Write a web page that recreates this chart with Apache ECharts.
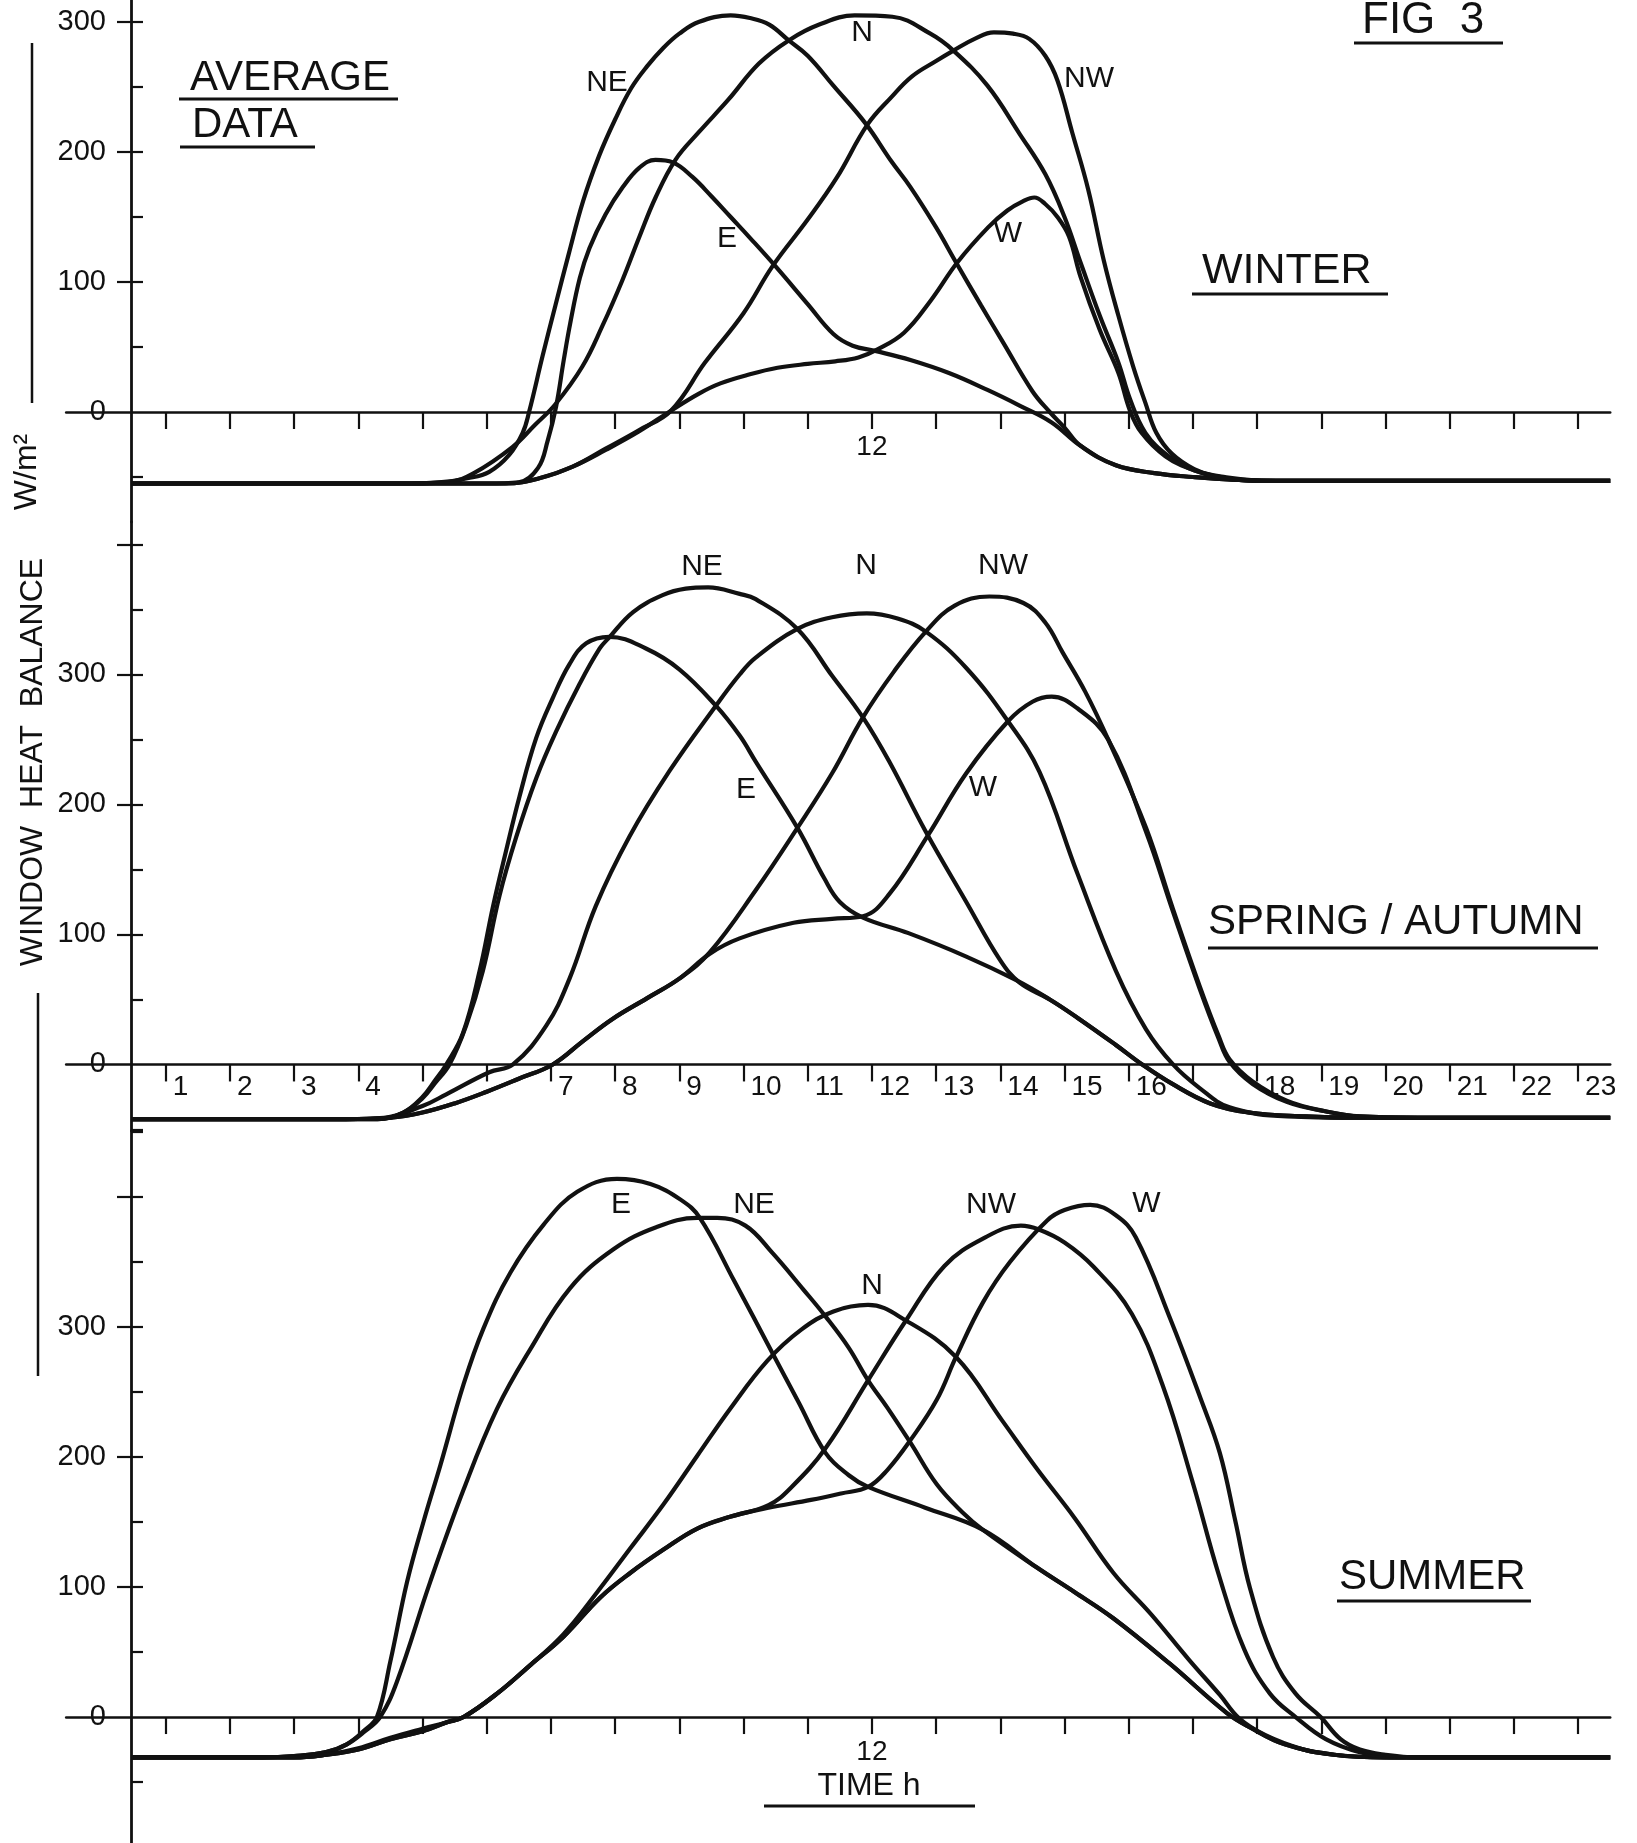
<!DOCTYPE html>
<html>
<head>
<meta charset="utf-8">
<title>Fig 3 - window heat balance</title>
<script src="https://cdn.jsdelivr.net/npm/echarts@6.0.0/dist/echarts.min.js"></script>
<style>
  html, body { margin: 0; padding: 0; background: #fff; }
  #chart { width: 1637px; height: 1843px; }
</style>
</head>
<body>
<div id="chart"></div>
<script>
// time axis (hours)
var tickHours = [1,2,3,4,5,6,7,8,9,10,11,12,13,14,15,16,17,18,19,20,21,22,23];
var winterHourLabels = [12];
var springHourLabels = [1,2,3,4,7,8,9,10,11,12,13,14,15,16,18,19,20,21,22,23];
var summerHourLabels = [12];
var wattLabels = [0,100,200,300];

// winter, [hour, W/m2]
var winterE = [[0.46,-55],[5,-55],[6,-55],[6.5,-54],[6.8,-43],[6.95,-22],[7.08,4],[7.2,40],[7.3,68],[7.45,103],[7.6,126],[7.85,152],[8.12,173],[8.38,188],[8.63,194],[8.9,192],[9.2,181],[9.5,166],[9.8,150],[10.1,134],[10.5,112],[11.0,83],[11.4,60],[11.7,51],[12.05,47],[12.6,40],[13.2,30],[13.8,17],[14.3,5],[14.8,-8],[15.25,-26],[15.8,-41],[16.4,-47],[17.0,-50],[17.6,-52],[18.5,-53],[23.5,-53]];
var winterNE = [[0.46,-55],[4.8,-55],[5.3,-54],[5.7,-51],[6.04,-46],[6.35,-33],[6.56,-16],[6.66,0],[6.87,43],[7.07,82],[7.28,122],[7.5,162],[7.75,197],[8.0,225],[8.25,249],[8.5,266],[8.75,280],[9.0,291],[9.3,300],[9.8,305],[10.1,303],[10.4,298],[10.7,286],[11.0,274],[11.4,251],[11.9,222],[12.3,193],[12.6,173],[13.0,142],[13.3,116],[13.7,82],[14.05,53],[14.5,16],[14.77,0],[15.0,-12],[15.25,-26],[15.8,-41],[16.4,-47],[17.0,-50],[17.6,-52],[18.5,-53],[23.5,-53]];
var winterN = [[0.46,-55],[4.8,-55],[5.4,-54],[5.8,-47],[6.4,-27],[6.75,-10],[7.07,6],[7.49,35],[7.8,66],[8.11,101],[8.38,135],[8.63,165],[8.94,194],[9.3,215],[9.76,240],[10.24,268],[10.71,286],[11.18,298],[11.73,305],[12.32,304],[12.91,291],[13.27,278],[13.8,251],[14.3,214],[14.7,183],[15.0,150],[15.25,115],[15.55,74],[15.84,38],[16.02,10],[16.26,-16],[16.62,-34],[17.03,-45],[17.5,-50],[18.2,-53],[23.5,-53]];
var winterNW = [[0.46,-55],[5.5,-55],[6.3,-55],[6.82,-51],[7.34,-42],[7.86,-28],[8.37,-14],[8.87,1],[9.4,38],[10.0,76],[10.45,112],[11.0,148],[11.45,180],[11.93,221],[12.3,242],[12.62,258],[13.0,270],[13.27,278],[13.6,287],[13.9,292],[14.2,291],[14.45,287],[14.7,274],[14.89,255],[15.12,215],[15.37,171],[15.61,117],[15.84,74],[16.07,35],[16.26,7],[16.43,-16],[16.67,-32],[17.02,-44],[17.32,-49],[18,-53],[23.5,-53]];
var winterW = [[0.46,-55],[5.5,-55],[6.3,-55],[6.82,-51],[7.34,-42],[7.86,-29],[8.37,-15],[8.87,1],[9.3,14],[9.64,22],[10.1,29],[10.53,34],[11.0,37],[11.43,39],[11.79,42],[12.08,48],[12.5,61],[12.92,86],[13.33,115],[13.81,142],[14.11,155],[14.35,162],[14.53,165],[14.7,160],[14.89,150],[15.07,135],[15.25,104],[15.55,63],[15.84,30],[16.02,1],[16.2,-16],[16.57,-34],[17.03,-45],[17.5,-51],[18.2,-53],[23.5,-53]];

// spring / autumn
var springE = [[0.46,-42],[3.8,-42],[4.3,-42],[4.7,-37],[5.0,-25],[5.2,-12],[5.37,0],[5.63,24],[5.89,72],[6.1,122],[6.3,164],[6.51,206],[6.77,251],[7.03,282],[7.29,308],[7.55,324],[7.91,329],[8.48,320],[9.0,304],[9.57,276],[9.94,253],[10.19,233],[10.84,182],[11.26,143],[11.5,125],[11.86,113],[12.57,101],[13.47,83],[14.24,65],[14.77,50],[15.2,36],[15.8,15],[16.21,0],[16.68,-15],[17.27,-30],[17.87,-37],[18.76,-40],[19.5,-41],[23.5,-41]];
var springNE = [[0.46,-42],[3.8,-42],[4.3,-42],[4.7,-37],[5.0,-26],[5.2,-14],[5.42,0],[5.68,30],[5.94,72],[6.2,130],[6.46,175],[6.77,220],[7.08,256],[7.45,293],[7.76,320],[7.9,328],[8.28,348],[8.74,361],[9.1,366],[9.45,367],[9.94,362],[10.19,358],[10.84,335],[11.38,299],[11.86,267],[12.27,233],[12.84,179],[13.47,125],[14.0,80],[14.3,63],[14.77,50],[15.2,36],[15.8,15],[16.21,0],[16.68,-15],[17.27,-30],[17.87,-37],[18.76,-40],[19.5,-41],[23.5,-41]];
var springN = [[0.46,-42],[3.8,-42],[4.4,-41],[5.0,-32],[5.37,-23],[6.04,-6],[6.41,0],[6.93,30],[7.29,66],[7.7,122],[8.22,175],[8.85,226],[9.57,276],[9.94,300],[10.19,313],[10.84,335],[11.38,344],[11.92,347],[12.4,343],[12.84,333],[13.47,305],[14.12,264],[14.61,225],[15.2,147],[15.8,72],[16.27,27],[16.69,0],[17.1,-18],[17.57,-33],[18.47,-40],[19.5,-41],[23.5,-41]];
var springNW = [[0.46,-42],[3.8,-42],[4.5,-41],[5.0,-37],[5.5,-30],[6.0,-21],[6.5,-11],[7.03,0],[7.5,18],[7.96,35],[8.5,51],[9.0,66],[9.47,86],[10.19,134],[10.84,182],[11.38,224],[11.86,267],[12.34,302],[12.84,333],[13.29,353],[13.83,360],[14.36,355],[14.7,340],[14.97,317],[15.32,287],[15.68,250],[16.27,182],[16.68,121],[17.1,61],[17.4,22],[17.57,4],[17.93,-13],[18.47,-28],[19.06,-36],[19.6,-40],[20.5,-41],[23.5,-41]];
var springW = [[0.46,-42],[3.8,-42],[4.5,-41],[5.0,-37],[5.5,-30],[6.0,-21],[6.5,-11],[7.03,0],[7.5,18],[7.96,35],[8.5,51],[9.0,66],[9.47,85],[9.94,97],[10.78,109],[11.38,112],[11.86,114],[12.27,131],[12.87,176],[13.47,224],[14.12,264],[14.5,279],[14.8,283],[15.2,274],[15.68,250],[16.27,179],[16.68,119],[17.1,59],[17.4,20],[17.57,2],[17.93,-15],[18.47,-29],[19.06,-36],[19.6,-40],[20.5,-41],[23.5,-41]];

// summer
var summerE = [[0.46,-31],[2.5,-31],[3.0,-30],[3.5,-27],[3.82,-21],[4.1,-10],[4.29,0],[4.5,43],[4.76,104],[5.02,151],[5.28,194],[5.64,256],[5.95,299],[6.37,342],[6.89,379],[7.41,404],[8.03,414],[8.55,410],[9.02,398],[9.32,384],[9.85,336],[10.45,280],[10.86,242],[11.28,203],[11.64,186],[11.94,177],[12.83,161],[13.73,144],[14.57,115],[15.16,96],[15.76,76],[16.64,41],[17.53,3],[17.89,-8],[18.43,-21],[19.2,-29],[20.0,-31],[23.5,-31]];
var summerNE = [[0.46,-31],[2.5,-31],[3.0,-30],[3.5,-27],[3.82,-21],[4.1,-11],[4.34,0],[4.6,27],[5.12,104],[5.64,175],[6.16,237],[6.68,283],[7.3,330],[7.98,360],[8.65,377],[9.28,384],[9.59,384],[10.03,378],[10.45,357],[10.93,329],[11.28,308],[11.64,284],[11.94,259],[12.24,238],[12.6,211],[13.01,179],[13.4,158],[13.73,144],[14.57,115],[15.16,96],[15.76,76],[16.64,41],[17.53,3],[17.89,-8],[18.43,-21],[19.2,-29],[20.0,-31],[23.5,-31]];
var summerN = [[0.46,-31],[2.5,-31],[3.0,-31],[3.5,-29],[4.0,-24],[4.5,-16],[5.0,-9],[5.38,-4],[5.64,0],[6.16,18],[6.68,40],[7.2,64],[7.72,96],[8.24,130],[8.76,164],[9.28,201],[9.79,237],[10.37,274],[10.9,298],[11.4,312],[11.94,317],[12.53,305],[13.31,277],[14.03,228],[14.57,191],[15.16,153],[15.76,111],[16.35,79],[16.94,44],[17.42,17],[17.72,-1],[18.13,-14],[18.72,-25],[19.2,-29],[20,-31],[23.5,-31]];
var summerNW = [[0.46,-31],[2.5,-31],[3.0,-31],[3.5,-29],[4.0,-25],[4.5,-17],[5.0,-11],[5.38,-4],[5.64,0],[6.16,18],[6.68,40],[7.2,62],[7.77,92],[8.24,111],[8.76,129],[9.28,145],[9.79,154],[10.39,163],[10.75,177],[11.28,207],[11.94,259],[12.53,305],[13.13,347],[13.73,368],[14.32,378],[14.6,375],[15.0,365],[15.46,346],[16.05,310],[16.53,255],[17.0,180],[17.4,110],[17.8,52],[18.2,18],[18.6,0],[19.07,-17],[19.6,-27],[20.2,-31],[23.5,-31]];
var summerW = [[0.46,-31],[2.5,-31],[3.0,-31],[3.5,-29],[4.0,-25],[4.5,-17],[5.0,-11],[5.38,-4],[5.64,0],[6.16,18],[6.68,40],[7.2,62],[7.77,92],[8.24,111],[8.76,129],[9.28,145],[9.79,154],[10.39,161],[11.05,167],[11.52,172],[11.94,177],[12.24,190],[12.6,213],[13.01,244],[13.31,277],[13.73,319],[14.15,350],[14.73,382],[15.0,390],[15.4,394],[15.8,386],[16.11,369],[16.65,306],[17.12,245],[17.42,203],[17.66,151],[17.89,99],[18.25,46],[18.6,18],[18.99,0],[19.3,-17],[19.6,-25],[20.0,-29],[20.5,-31],[23.5,-31]];

var INK = '#111';
var FONT = "'Liberation Sans', Arial, sans-serif";

// one panel per season, stacked
var panels = [
  { top: 0, height: 522, min: -84.6, max: 316.9, inner: [-50,50,100,150,200,250,300], outer: [100,200,300],
    hours: winterHourLabels, series: [winterE, winterNE, winterN, winterNW, winterW] },
  { top: 522, height: 609, min: -51.2, max: 417.3, inner: [-50,50,100,150,200,250,300,350,400], outer: [100,200,300,400],
    hours: springHourLabels, series: [springE, springNE, springN, springNW, springW] },
  { top: 1131, height: 712, min: -96.9, max: 450.8, inner: [-50,50,100,150,200,250,300,350,400,450], outer: [100,200,300,400],
    hours: summerHourLabels, series: [summerE, summerNE, summerN, summerNW, summerW] }
];

var grids = [], xAxes = [], yAxes = [], series = [];
panels.forEach(function (p, i) {
  grids.push({ left: 66.2, right: 26.8, top: p.top, height: p.height, outerBoundsMode: 'none', containLabel: false });
  var spring = (i === 1);
  // the time axis sits on the zero line: pull it up from the grid bottom
  var zeroShift = p.height * p.min / (p.max - p.min);
  xAxes.push({
    gridIndex: i, type: 'value', min: -0.55, max: 23.5, position: 'bottom', offset: zeroShift,
    axisLine: { onZero: false, lineStyle: { color: INK, width: 2.6 } },
    axisTick: { show: true, customValues: tickHours, length: 17, lineStyle: { color: INK, width: 2.2 } },
    axisLabel: spring
      ? { customValues: p.hours, color: INK, fontFamily: FONT, fontSize: 28, align: 'left', verticalAlign: 'top', margin: 9, padding: [0, 0, 0, 7] }
      : { customValues: p.hours, color: INK, fontFamily: FONT, fontSize: 28, align: 'center', verticalAlign: 'top', margin: 21 },
    splitLine: { show: false }
  });
  // axis line with the short inside ticks every 50
  yAxes.push({
    gridIndex: i, type: 'value', position: 'left', min: p.min, max: p.max, offset: -64.8,
    axisLine: { show: true, onZero: false, lineStyle: { color: INK, width: 2.8 } },
    axisTick: { show: true, inside: true, customValues: p.inner, length: 12, lineStyle: { color: INK, width: 2.2 } },
    axisLabel: { show: false },
    splitLine: { show: false }
  });
  // outside ticks and labels every 100
  yAxes.push({
    gridIndex: i, type: 'value', position: 'left', min: p.min, max: p.max, offset: -64.8,
    axisLine: { show: false, onZero: false },
    axisTick: { show: true, customValues: p.outer, length: 14, lineStyle: { color: INK, width: 2.2 } },
    axisLabel: { customValues: wattLabels, color: INK, fontFamily: FONT, fontSize: 29, margin: 25 },
    splitLine: { show: false }
  });
  var names = ['E', 'NE', 'N', 'NW', 'W'];
  p.series.forEach(function (d, k) {
    series.push({
      name: names[k], type: 'line', xAxisIndex: i, yAxisIndex: 2 * i,
      data: d, showSymbol: false, smooth: 0.4,
      lineStyle: { color: INK, width: 4.2 }, silent: true
    });
  });
});

function text(str, x, y, size, align, rot) {
  return {
    type: 'text', x: x, y: y, rotation: rot || 0, silent: true,
    style: { text: str, fill: INK, font: size + 'px ' + FONT,
      align: align || 'left', textAlign: align || 'left', verticalAlign: 'middle', textVerticalAlign: 'middle' }
  };
}
function rule(x1, y1, x2, y2, w) {
  return { type: 'line', silent: true, shape: { x1: x1, y1: y1, x2: x2, y2: y2 }, style: { stroke: INK, lineWidth: w || 3 } };
}

var graphic = [
  text('AVERAGE', 190, 78.5, 42), rule(179, 99, 398, 99),
  text('DATA', 192, 125, 42), rule(180, 147, 315, 147),
  text('FIG  3', 1362, 21, 44), rule(1354, 43, 1503, 43),
  text('WINTER', 1202, 271, 43), rule(1192, 294, 1388, 294),
  text('SPRING / AUTUMN', 1208, 922, 42), rule(1208, 948, 1598, 948),
  text('SUMMER', 1339, 1577, 42), rule(1337, 1601, 1531, 1601),
  text('TIME h', 869, 1786, 32, 'center'), rule(764, 1806, 975, 1806),
  text('WINDOW  HEAT  BALANCE', 33.5, 762, 32, 'center', Math.PI / 2),
  text('W/m\u00B2', 27, 472, 32, 'center', Math.PI / 2),
  rule(32, 43, 32, 403, 2.5), rule(38, 993, 38, 1376, 2.5),
  // winter curve names
  text('NE', 607, 82.5, 30, 'center'), text('N', 862, 33, 30, 'center'), text('E', 727, 239, 30, 'center'),
  text('W', 1008, 234, 30, 'center'), text('NW', 1089, 79, 30, 'center'),
  // spring curve names
  text('NE', 702, 567, 30, 'center'), text('N', 866, 566, 30, 'center'), text('NW', 1003, 566, 30, 'center'),
  text('E', 746, 790, 30, 'center'), text('W', 983, 788, 30, 'center'),
  // summer curve names
  text('E', 621, 1205, 30, 'center'), text('NE', 754, 1205, 30, 'center'), text('N', 872, 1286, 30, 'center'),
  text('NW', 991, 1205, 30, 'center'), text('W', 1146.5, 1203.5, 30, 'center')
];

var chart = echarts.init(document.getElementById('chart'), null, { width: 1637, height: 1843, renderer: 'canvas' });
chart.setOption({
  backgroundColor: '#fff',
  animation: false,
  grid: grids,
  xAxis: xAxes,
  yAxis: yAxes,
  series: series,
  graphic: graphic
});
</script>
</body>
</html>
